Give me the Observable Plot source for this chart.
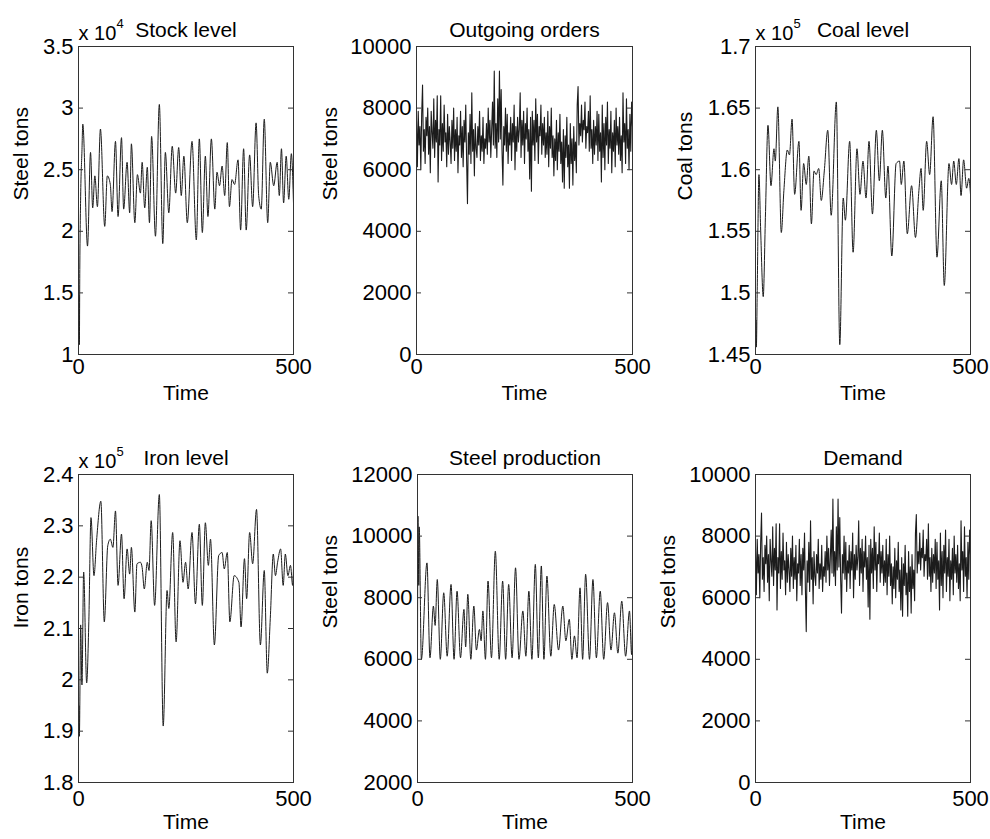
<!DOCTYPE html>
<html><head><meta charset="utf-8">
<script src="https://cdn.jsdelivr.net/npm/d3@7"></script>
<script src="https://cdn.jsdelivr.net/npm/@observablehq/plot@0.6"></script>
<style>
html,body{margin:0;padding:0;background:#fff;}
#fig{position:relative;width:990px;height:839px;background:#fff;}
#fig > svg{position:absolute;}
</style></head><body><div id="fig"></div>
<script>
// ---------- DATA ----------
const timeTicks = [0, 500];

// Stock level (steel tons)
const stockTime = [0,1,2,3,5,8,10,21,28,33,38,44,51,61,67,74,78,86,92,100,105,113,119,123,131,137,144,148,154,160,165,170,179,188,196,202,210,218,226,233,239,245,253,264,274,281,288,295,301,309,317,322,328,334,340,346,351,357,363,371,377,384,390,398,405,413,419,425,432,440,446,454,462,467,472,477,483,489,495,500];
const stockTons = [10500,14800,10800,16900,22800,26500,28700,18800,26400,21900,24500,22000,28300,20400,24500,23800,21600,27300,21200,27600,21800,25600,21500,27100,20700,24600,23100,25600,21900,25200,20700,27700,19600,30300,19000,26400,21500,26900,23100,26800,22900,26100,20700,27300,19300,27500,19900,26100,21200,27500,21800,24800,23700,25300,22900,27200,22000,24200,23800,25800,20100,26700,20100,26200,22000,28800,22900,21800,29100,20700,25600,23700,25600,22900,26700,22300,26100,22600,26300,22300];
const stockTicks = [1, 1.5, 2, 2.5, 3, 3.5];

// Demand (steel tons), one value every 2 time units; outgoing orders follow demand exactly
const demandTons = [
7600,6100,7900,6800,7400,6000,7800,8750,6600,7300,
6200,7700,7100,8000,6500,7400,5900,7900,7200,6700,
8300,6400,7600,6900,8400,5600,7300,6800,8400,6300,
7500,6600,8100,6900,7200,6100,7800,6500,7400,6900,
6200,7600,6700,8000,6300,7300,6600,7700,5900,7100,
6800,7900,6400,7400,6100,7600,6900,8100,6300,4900,
7200,6500,7800,6200,8500,6600,7300,5800,7500,6700,
6400,7400,6800,7900,6300,7100,6600,7700,6200,7000,
6700,7500,6500,8000,6900,7600,6400,7300,8200,6800,
9200,6700,7500,6400,8300,6900,9200,7000,8600,6600,
5500,7400,6800,8000,6600,7800,6200,7200,6800,7700,
6300,7500,6900,8100,6000,7400,6600,7700,6900,7300,
8500,6400,7600,6800,7900,6200,7500,7000,8000,6600,
7300,5700,7700,5300,7900,6800,7600,6300,8300,6900,
7800,6200,7400,7100,8100,6500,7500,6800,7700,6400,
7200,6500,7900,6100,7400,6700,8000,6400,7100,5800,
7000,6300,7600,6000,7200,6600,7800,6200,6900,5600,
7300,5400,7100,6400,7700,6100,6800,5400,7500,6200,
7000,5500,7400,6300,6900,5900,8100,8700,6800,7500,
7100,8100,6900,7600,7300,8200,6700,7400,7200,7900,
6600,8400,6700,7300,6200,7600,6500,7400,6800,7900,
6300,7800,6600,7200,5600,8100,6400,7500,6000,7700,
6800,8200,6200,7300,6700,7900,5900,7200,6600,7600,
6100,8000,6800,7400,6500,7700,6300,7100,5900,8500,
6900,7500,6200,8300,6700,7300,6000,7800,6600,8200,
7400];
const demandTime = d3.range(0, 501, 2);
const ordersTons = demandTons;
const ordersTicks = [0, 2000, 4000, 6000, 8000, 10000];
const demandTicks = [0, 2000, 4000, 6000, 8000, 10000];

// Coal level (coal tons)
const coalTime = [0,1,2,4,8,12,18,23,29,36,43,46,52,60,66,74,79,85,91,101,106,112,118,124,130,136,141,147,153,160,168,176,188,196,204,209,219,227,236,243,250,257,264,272,281,288,295,303,308,317,327,335,339,345,353,363,372,380,385,390,398,405,413,422,432,439,450,456,461,467,473,478,484,491,496,500];
const coalTons = [145400,147800,145600,150200,159600,155100,149700,156100,163600,158700,161700,160700,165100,154900,158300,161600,161200,164100,158000,162300,156700,160500,158800,161100,155600,159900,159600,160100,157500,159900,163200,156300,165500,145800,157700,155900,162300,153300,161700,158000,160700,157700,162300,156400,163200,159100,163200,157700,160300,153000,160500,160700,158800,160700,154800,158700,154500,158300,160100,156700,162300,159600,164300,152900,159100,150600,160500,158800,160700,158800,160900,157900,160800,158500,159300,158000];
const coalTicks = [1.45, 1.5, 1.55, 1.6, 1.65, 1.7];

// Iron level (iron tons)
const ironTime = [0,1,2,5,8,12,19,24,29,36,42,52,60,68,74,80,86,92,100,106,113,119,123,131,136,144,148,153,160,164,169,177,188,197,206,210,219,227,236,243,249,255,264,272,281,288,295,302,307,316,326,334,339,346,352,362,373,378,386,391,398,405,414,423,432,439,446,453,458,463,470,476,481,487,493,498,500];
const ironTons = [189400,195000,189000,210700,199000,221000,199400,211300,231600,220300,227100,234800,211300,226100,227400,225800,232900,218400,228400,215800,225500,220600,225800,213200,222600,222900,221900,217700,222900,221300,231000,214500,236100,191000,217400,213900,228700,207400,227100,219000,222900,217700,228700,214800,230300,214500,230600,222300,227400,206800,224200,224800,221600,224800,211300,220300,219000,210300,223600,215800,228700,222600,233200,206800,221300,201300,211900,224500,220300,222900,225500,218400,224500,220300,222300,218400,221600];
const ironTicks = [1.8, 1.9, 2, 2.1, 2.2, 2.3, 2.4];

// Steel production (steel tons)
const prodTime = [0,1,3,4,9,22,29,37,41,46,53,61,69,78,85,92,100,108,112,117,124,131,137,144,148,152,158,164,172,181,190,198,205,212,220,228,236,245,252,259,266,274,281,288,294,301,310,318,328,338,345,353,359,365,371,378,384,391,400,408,416,425,433,442,450,458,466,475,484,493,498,500];
const prodTons = [5700,10650,8400,10300,6000,9130,6050,7730,7100,8590,6000,8160,6100,8430,6000,8210,6050,7620,6400,8110,6000,7730,6300,6970,6600,7570,6000,8540,6050,9510,6000,8540,6000,8430,6050,8970,6000,7570,6100,8210,6000,9080,6050,9030,6000,8700,6100,7780,6300,7730,6600,7300,6000,6760,6050,8320,6000,8760,6000,8590,6050,8210,6000,7840,6300,7510,6200,7890,6100,7570,6150,7200];
const prodTicks = [2000, 4000, 6000, 8000, 10000, 12000];

// ---------- DRAWING ----------
const FONT = '"Liberation Sans", Arial, Helvetica, sans-serif';
const LINE = "#1c1c1c";
const AX = "#333";
const fig = document.getElementById("fig");

function panel(o) {
  const fw = o.width - o.mL - o.mR;
  const marks = [
    o.series,
    Plot.frame({stroke: AX}),
    Plot.tickY(o.yTicks, {y: d => d, insetRight: fw - 5, stroke: AX}),
    Plot.tickY(o.yTicks, {y: d => d, insetLeft: fw - 5, stroke: AX}),
    Plot.axisY({ticks: o.yTicks, tickSize: 0, tickPadding: 5, tickFormat: d => String(d), label: null, fontSize: 22}),
    Plot.axisX({ticks: timeTicks, tickSize: 0, tickPadding: o.xPad, label: null, fontSize: 22}),
    Plot.text([o.title], {text: d => d, frameAnchor: "top", dy: -24, fontSize: 21}),
    Plot.text([o.yLabel], {text: d => d, frameAnchor: "left", rotate: -90, dx: o.yDx, fontSize: 21}),
    Plot.text(["Time"], {text: d => d, frameAnchor: "bottom", dy: o.tDy, fontSize: 21})
  ];
  if (o.exp) {
    marks.push(Plot.text(["x 10"], {text: d => d, frameAnchor: "top-left", textAnchor: "start", dy: -21, fontSize: 20}));
    marks.push(Plot.text([o.exp], {text: d => d, frameAnchor: "top-left", textAnchor: "start", dx: 38, dy: -28, fontSize: 13}));
  }
  const svg = Plot.plot({
    width: o.width, height: o.height,
    marginLeft: o.mL, marginRight: o.mR, marginTop: o.mT, marginBottom: o.mB,
    style: {fontFamily: FONT, fontSize: "21px", color: "#000", background: "transparent", overflow: "visible"},
    x: {domain: [0, 500]},
    y: {domain: o.yDomain},
    marks
  });
  svg.style.left = o.left + "px";
  svg.style.top = o.top + "px";
  fig.appendChild(svg);
}

panel({left: 0, top: 0, width: 330, height: 420, mL: 78, mR: 37, mT: 46, mB: 66,
  title: "Stock level", exp: "4", yLabel: "Steel tons", yDx: -57, xPad: 4, tDy: 45,
  yDomain: [1, 3.5], yTicks: stockTicks,
  series: Plot.line(stockTons, {x: stockTime, y: d => d / 1e4, stroke: LINE, strokeWidth: 1, curve: "monotone-x"})});

panel({left: 330, top: 0, width: 330, height: 420, mL: 86, mR: 28, mT: 46, mB: 66,
  title: "Outgoing orders", yLabel: "Steel tons", yDx: -86, xPad: 4, tDy: 45,
  yDomain: [0, 10000], yTicks: ordersTicks,
  series: Plot.line(ordersTons, {x: demandTime, y: d => d, stroke: LINE, strokeWidth: 1.1})});

panel({left: 660, top: 0, width: 330, height: 420, mL: 95, mR: 20, mT: 46, mB: 66,
  title: "Coal level", exp: "5", yLabel: "Coal tons", yDx: -70, xPad: 4, tDy: 45,
  yDomain: [1.45, 1.7], yTicks: coalTicks,
  series: Plot.line(coalTons, {x: coalTime, y: d => d / 1e5, stroke: LINE, strokeWidth: 1, curve: "monotone-x"})});

panel({left: 0, top: 420, width: 330, height: 419, mL: 78, mR: 37, mT: 54, mB: 57,
  title: "Iron level", exp: "5", yLabel: "Iron tons", yDx: -57, xPad: 8, tDy: 46,
  yDomain: [1.8, 2.4], yTicks: ironTicks,
  series: Plot.line(ironTons, {x: ironTime, y: d => d / 1e5, stroke: LINE, strokeWidth: 1, curve: "monotone-x"})});

panel({left: 330, top: 420, width: 330, height: 419, mL: 87, mR: 28, mT: 54, mB: 57,
  title: "Steel production", yLabel: "Steel tons", yDx: -87, xPad: 8, tDy: 46,
  yDomain: [2000, 12000], yTicks: prodTicks,
  series: Plot.line(prodTons, {x: prodTime, y: d => d, stroke: LINE, strokeWidth: 1, curve: "monotone-x"})});

panel({left: 660, top: 420, width: 330, height: 419, mL: 95, mR: 20, mT: 54, mB: 57,
  title: "Demand", yLabel: "Steel tons", yDx: -87, xPad: 8, tDy: 46,
  yDomain: [0, 10000], yTicks: demandTicks,
  series: Plot.line(demandTons, {x: demandTime, y: d => d, stroke: LINE, strokeWidth: 1.1})});
</script>
</body></html>
